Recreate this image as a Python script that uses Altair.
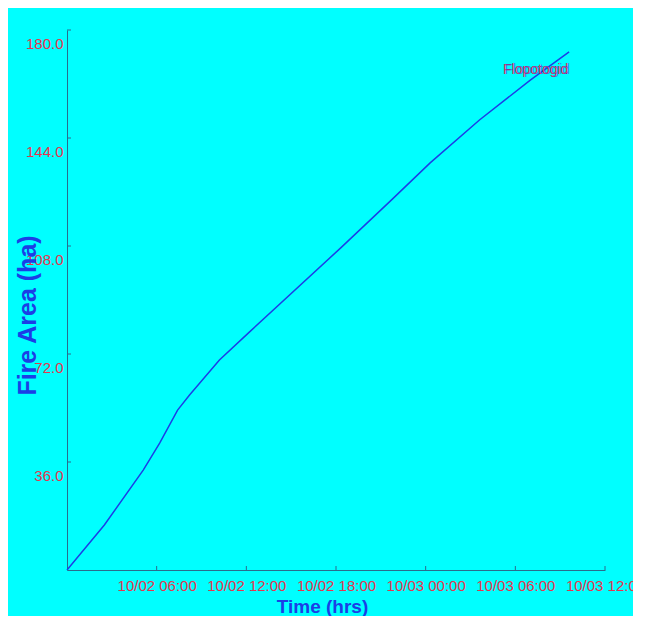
import altair as alt
import pandas as pd

# ---- data ----
start_time = "2023-10-02T00:00:00Z"
hours = [0, 2.5, 5.1, 6.2, 7.4, 8.2, 10.2, 12.2, 18.3, 21.7, 24.3, 27.6, 31.0, 33.6]
fire_area = [0, 15.0, 33.3, 42.3, 53.3, 58.3, 70.0, 79.3, 107.3, 123.3, 135.7, 150.0, 163.3, 172.7]
x_tick_hours = [6, 12, 18, 24, 30, 36]
y_ticks = [36, 72, 108, 144, 180]
series_name = "Flopotogid"

t0 = pd.Timestamp(start_time)
def ms(h):
    return int((t0 + pd.Timedelta(hours=h)).value // 10**6)

df = pd.DataFrame({"t": [ms(h) for h in hours], "area": fire_area})
xt = pd.DataFrame({"t": [ms(h) for h in x_tick_hours]})
yt = pd.DataFrame({"area": y_ticks})
lab = pd.DataFrame({"name": [series_name]})

RED = "#e8344e"
BLUE = "#1c3ee6"
AXIS = "#2a6b8c"
FONT = "Liberation Sans, Arial, sans-serif"

xscale = alt.Scale(type="utc", domain=[ms(0), ms(36)], nice=False)
yscale = alt.Scale(domain=[0, 180], nice=False, zero=True)

xaxis = alt.Axis(
    values=[ms(h) for h in x_tick_hours], format="%m/%d %H:%M",
    labelColor=RED, labelFont=FONT, labelFontSize=15, labelPadding=8,
    tickSize=0, domainColor=AXIS, domainWidth=1, grid=False,
    labelOverlap=False, labelBound=False, labelFlush=False,
    title="Time (hrs)", titleColor=BLUE, titleFont=FONT, titleFontWeight="bold",
    titleFontSize=19, titleX=255, titleY=42, titleBaseline="alphabetic", titleAlign="center",
)
yaxis = alt.Axis(
    values=y_ticks, format=".1f",
    labelColor=RED, labelFont=FONT, labelFontSize=15, labelPadding=4,
    labelOffset=13, labelBaseline="middle",
    tickSize=0, domainColor=AXIS, domainWidth=1, grid=False,
    title="Fire Area (ha)", titleColor=BLUE, titleFont=FONT, titleFontWeight="bold",
    titleFontSize=25, titleX=-40, titleY=285, titleAngle=270,
    titleBaseline="middle", titleAlign="center",
)

line = alt.Chart(df).mark_line(color=BLUE, strokeWidth=1.5).encode(
    x=alt.X("t:T", scale=xscale, axis=xaxis),
    y=alt.Y("area:Q", scale=yscale, axis=yaxis),
)

xticks = alt.Chart(xt).mark_rule(color=AXIS, strokeWidth=1).encode(
    x=alt.X("t:T", scale=xscale, axis=xaxis),
    y=alt.value(536), y2=alt.value(540),
)
yticks = alt.Chart(yt).mark_rule(color=AXIS, strokeWidth=1).encode(
    y=alt.Y("area:Q", scale=yscale, axis=yaxis),
    x=alt.value(0), x2=alt.value(4),
)

label_red = alt.Chart(lab).mark_text(
    color=RED, font=FONT, fontSize=14, align="left", baseline="alphabetic"
).encode(text="name:N", x=alt.value(436), y=alt.value(44))
label_blue = alt.Chart(lab).mark_text(
    color=BLUE, font=FONT, fontSize=14, align="left", baseline="alphabetic", opacity=0.55, dx=1.5
).encode(text="name:N", x=alt.value(436), y=alt.value(44))

chart = alt.layer(line, xticks, yticks, label_red, label_blue).properties(
    width=538, height=540,
    autosize=alt.AutoSizeParams(type="none"),
    padding={"left": 59, "top": 22, "right": 28, "bottom": 46},
    background="#00FFFF",
).configure_view(stroke=None)

chart.save("out.html", embed_options={"renderer": "svg", "actions": False})
